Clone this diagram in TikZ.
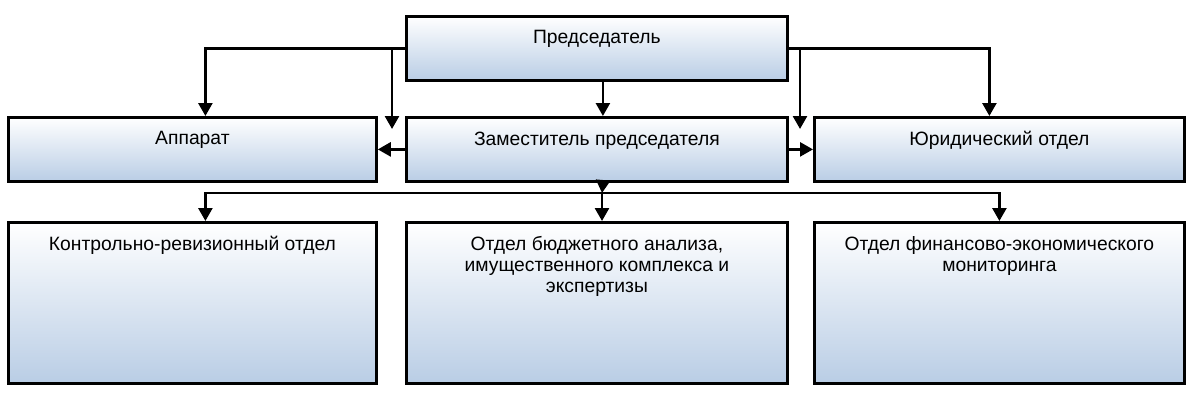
\documentclass[tikz,border=0pt]{standalone}
\usepackage{fontspec}
\setmainfont{Liberation Sans}
\usetikzlibrary{arrows.meta,calc}
\definecolor{boxblue}{RGB}{185,205,229}

\tikzset{
  orgbox/.style={draw, line width=2.8pt, top color=white, bottom color=boxblue,
    inner sep=0pt, anchor=north west, minimum height=64pt},
  boxtext/.style={label={[anchor=north, yshift=-12pt, align=center,
    font=\fontsize{19.3}{21}\selectfont]north:#1}},
  conn/.style={line width=2.6pt, -{Triangle[length=13pt,width=14pt]}}
}

\begin{document}
\begin{tikzpicture}[x=1pt, y=-1pt]
\useasboundingbox (0,0) rectangle (1190,396);

% top level
\node[orgbox, minimum width=381pt, boxtext={Председатель}] (pred) at (405,15) {};

% second row
\node[orgbox, minimum width=368pt, boxtext={Аппарат}] (app) at (7,116) {};
\node[orgbox, minimum width=381pt, boxtext={Заместитель председателя}] (zam) at (405,116) {};
\node[orgbox, minimum width=370pt, boxtext={Юридический отдел}] (jur) at (813,116) {};

% departments
\node[orgbox, minimum width=368pt, minimum height=161pt,
  boxtext={Контрольно-ревизионный отдел}] (kro) at (7,221) {};
\node[orgbox, minimum width=381pt, minimum height=161pt,
  boxtext={Отдел бюджетного анализа,\\имущественного комплекса и\\экспертизы}] (bud) at (405,221) {};
\node[orgbox, minimum width=370pt, minimum height=161pt,
  boxtext={Отдел финансово-экономического\\мониторинга}] (fin) at (813,221) {};

% free ends and the bus
\coordinate (lefttip) at (392,129);
\coordinate (righttip) at (800,129);
\coordinate (bus) at (602,193);

% connectors from the chairman
\draw[conn] (pred.west) -| ([xshift=13pt]app.north);
\draw[conn] (pred.west -| lefttip) -- (lefttip);
\draw[conn] (pred.east) -| ([xshift=-10pt]jur.north);
\draw[conn] (pred.east -| righttip) -- (righttip);
\draw[conn] ([xshift=6pt]pred.south) -- ([xshift=6pt]zam.north);

% connectors from the deputy
\draw[conn] (zam.west) -- (app.east);
\draw[conn] (zam.east) -- (jur.west);
\draw[conn] ([xshift=6pt]zam.south) -- (bus);
\draw[conn] (bus) -| ([xshift=13pt]kro.north);
\draw[conn] (bus) -- (bus |- bud.north);
\draw[conn] (bus) -| (fin.north);

\end{tikzpicture}
\end{document}
